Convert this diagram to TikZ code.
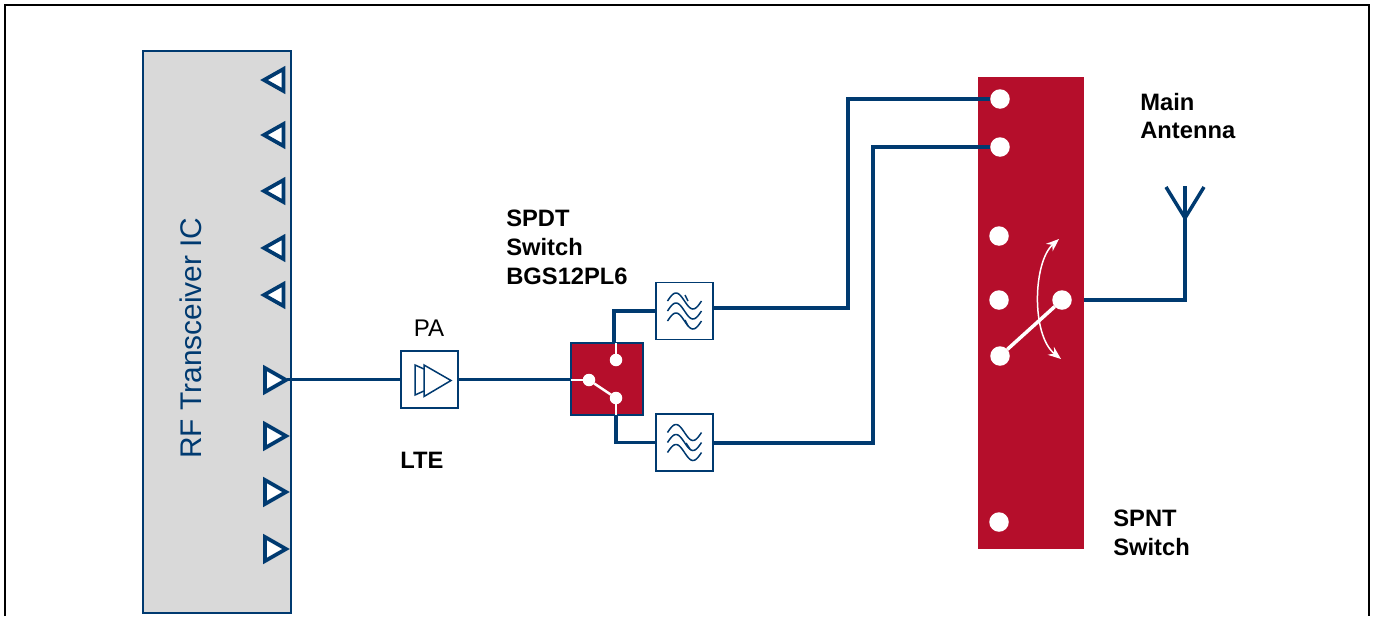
\documentclass[tikz,border=0pt]{standalone}
\usepackage{fontspec}
\setmainfont{Liberation Sans}
\usetikzlibrary{arrows.meta,calc}

\definecolor{wireblue}{HTML}{003A70}
\definecolor{chipred}{HTML}{B50E2B}
\definecolor{chipgray}{HTML}{D9D9D9}

\tikzset{
    wire/.style={draw=wireblue, line width=0.07cm},
    thinblue/.style={draw=wireblue, line width=0.03cm},
    portmark/.style={draw=wireblue, line width=0.075cm, fill=white, line join=miter},
    whiteline/.style={draw=white, line width=0.05cm},
    whitedot/.style={circle, fill=white, inner sep=0pt, outer sep=0pt, minimum size=0.39cm},
    smalldot/.style={circle, fill=white, inner sep=0pt, outer sep=0pt, minimum size=0.25cm},
    blockbox/.style={draw=wireblue, line width=0.03cm, fill=white, inner sep=0pt, outer sep=0pt, minimum size=1.14cm},
    boldlabel/.style={font=\fontsize{13.5}{16.4}\selectfont\bfseries, align=left, anchor=north west, inner sep=0pt},
}

\begin{document}
\begin{tikzpicture}[x=0.02cm, y=-0.02cm, >={Stealth[length=0.26cm,width=0.2cm]}]
    \useasboundingbox (0,0) rectangle (1373,616);

    % outer frame, open at the bottom
    \draw[line width=0.04cm] (5,616) -- (5,4.5) -- (1369,4.5) -- (1369,616);

    % transceiver
    \node[draw=wireblue, line width=0.03cm, fill=chipgray, inner sep=0pt, outer sep=0pt,
          minimum width=2.96cm, minimum height=11.24cm] (ic) at (217,332) {};
    \node[rotate=90, text=wireblue, font=\fontsize{17}{20}\selectfont] (iclabel) at (191,338) {RF Transceiver IC};
    \foreach \y in {80,135,191,248,295}
        \draw[portmark] (264,\y) -- (283.5,{\y-11}) -- (283.5,{\y+11}) -- cycle;
    \foreach \y in {380,436,492,549}
        \draw[portmark] (286,\y) -- (265,{\y-12}) -- (265,{\y+12}) -- cycle;
    \coordinate (ictx) at (287,379.5);

    % PA
    \node[blockbox] (pa) at (429.5,379.5) {};
    \node[font=\fontsize{13.7}{15}\selectfont, inner sep=0pt] (palabel) at (429,328) {PA};
    \node[boldlabel] (ltelabel) at (400,452) {LTE};
    \draw[thinblue] (424,369) -- (415,365) -- (415,395) -- (424,391);
    \draw[thinblue] (424,365) -- (451,380.5) -- (424,396.5) -- cycle;

    % SPDT switch
    \node[draw=wireblue, line width=0.03cm, fill=chipred, inner sep=0pt, outer sep=0pt,
          minimum size=1.44cm] (spdt) at (607,379) {};
    \node[smalldot] (spdtin) at (589,380) {};
    \node[smalldot] (spdta) at (616,360) {};
    \node[smalldot] (spdtb) at (616,398) {};
    \draw[whiteline] (spdt.west |- spdtin) -- (spdtin);
    \draw[whiteline] (spdtin) -- (spdtb);
    \draw[whiteline] (spdt.north -| spdta) -- (spdta);
    \draw[whiteline] (spdtb) -- (spdtb |- spdt.south);
    \node[boldlabel] (spdtlabel) at (506,209.5) {SPDT\\Switch\\BGS12PL6};

    % filters
    \node[blockbox] (filta) at (684.5,311) {};
    \node[blockbox] (filtb) at (684.5,442.5) {};
    \foreach \f in {filta,filtb}
        \foreach \dy in {-10,0,10}
            \draw[thinblue, shift={(\f.center)}, domain=-17:17, samples=40, smooth, variable=\t]
                plot ({\t}, {\dy-8*sin((\t+17)*360/34)});
    \draw[thinblue] (685,295) -- (688,301);
    \draw[thinblue] (685,320) -- (688,326);
    \draw[thinblue] (686,443) -- (690,449);

    % SPNT switch
    \node[fill=chipred, inner sep=0pt, outer sep=0pt, minimum width=2.12cm, minimum height=9.44cm] (spnt) at (1031,313) {};
    \node[whitedot] (porta) at (1000,99) {};
    \node[whitedot] (portb) at (1000,147) {};
    \node[whitedot] (portc) at (999,236) {};
    \node[whitedot] (portd) at (999,300) {};
    \node[whitedot] (porte) at (1000,356) {};
    \node[whitedot] (portf) at (999,522) {};
    \node[whitedot] (common) at (1062,300) {};
    \draw[whiteline, line width=0.07cm] (common) -- (porte);
    \draw[white, line width=0.03cm, <->] (1059,239) .. controls (1033,262) and (1031,335) .. (1061,359);
    \node[boldlabel] (spntlabel) at (1113,510) {SPNT\\Switch};

    % antenna
    \node[boldlabel] (antlabel) at (1140,92.5) {Main\\Antenna};
    \coordinate (antfoot) at (1185,218);
    \coordinate (anttip) at (1185,186);
    \coordinate (antleft) at (1166,187);
    \coordinate (antright) at (1204,187);

    % connectors
    \draw[wire] (ictx) -- (pa);
    \draw[wire] (pa) -- (spdt.west |- pa);
    \coordinate (spdtup) at (614,343);
    \coordinate (spdtdown) at (616,415);
    \coordinate (filtaout) at (713,308);
    \coordinate (filtbout) at (713,443);
    \draw[wire] (spdtup) |- (filta.west);
    \draw[wire] (spdtdown) |- (filtb.west);
    \draw[wire] (filtaout) -| (848,99) -- (porta);
    \draw[wire] (filtbout) -| (873,147) -- (portb);
    \draw[wire] (spnt.east |- common) -| (antfoot) -- (anttip);
    \draw[wire] (antleft) -- (antfoot) -- (antright);

    % redraw what the wires cross
    \node[blockbox, fill=none] (paedge) at (pa) {};
\end{tikzpicture}
\end{document}
